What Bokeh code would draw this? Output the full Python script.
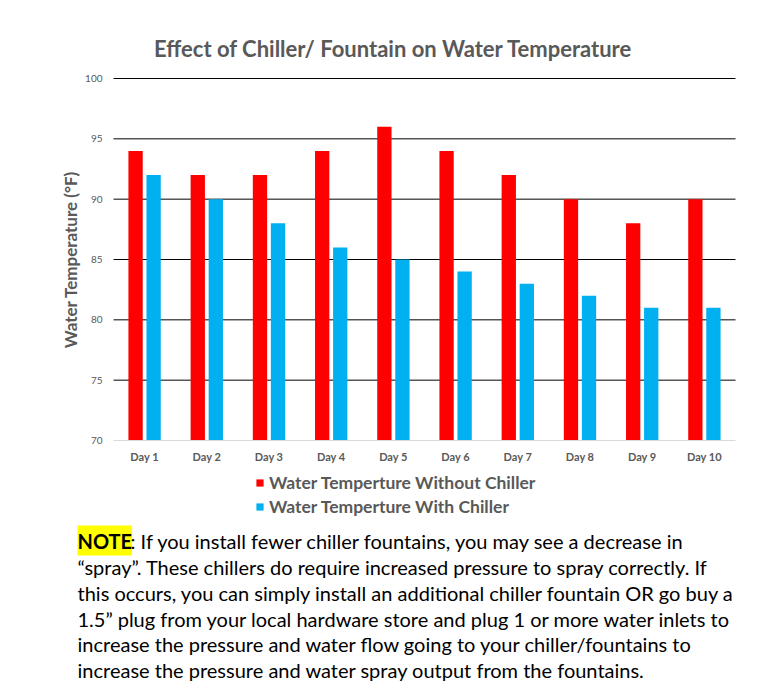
import math
from bokeh.plotting import figure
from bokeh.models import (Range1d, FixedTicker, Legend, LegendItem, Label, ColumnDataSource)
from bokeh.transform import dodge
from bokeh.embed import file_html
from bokeh.resources import INLINE

days = ["Day 1", "Day 2", "Day 3", "Day 4", "Day 5", "Day 6", "Day 7", "Day 8", "Day 9", "Day 10"]
without_chiller = [94, 92, 92, 94, 96, 94, 92, 90, 88, 90]
with_chiller = [92, 90, 88, 86, 85, 84, 83, 82, 81, 81]
y_ticks = [70, 75, 80, 85, 90, 95, 100]
series_names = ["Water Temperture Without Chiller", "Water Temperture With Chiller"]
title_text = "Effect of Chiller/ Fountain on Water Temperature"
y_label = "Water Temperature (°F)"
note_head = "NOTE"
note_lines = [
    ": If you install fewer chiller fountains, you may see a decrease in",
    "\u201cspray\u201d. These chillers do require increased pressure to spray correctly. If",
    "this occurs, you can simply install an additional chiller fountain OR go buy a",
    "1.5\u201d plug from your local hardware store and plug 1 or more water inlets to",
    "increase the pressure and water flow going to your chiller/fountains to",
    "increase the pressure and water spray output from the fountains.",
]

FONT = "Lato"
GRAY = "#595959"
W, H = 784, 700
# plot-area placement in canvas pixels (layout only)
PL, PR, PT, PB = 113, 735, 78, 440
n = len(days)
ymin, ymax = y_ticks[0], y_ticks[-1]
xpx = (PR - PL) / n
ypx = (PB - PT) / (ymax - ymin)

xpos = [i + 0.5 for i in range(n)]
src = ColumnDataSource(dict(x=xpos, wo=without_chiller, wi=with_chiller))
grid_src = ColumnDataSource(dict(y=y_ticks[1:], x0=[0] * (len(y_ticks) - 1),
                                 x1=[n] * (len(y_ticks) - 1)))

p = figure(width=W, height=H,
           x_range=Range1d(-PL / xpx, (W - PL) / xpx),
           y_range=Range1d(ymin - (H - PB) / ypx, ymax + PT / ypx),
           output_backend="svg", toolbar_location=None,
           min_border=0, min_border_left=0, min_border_right=0,
           min_border_top=0, min_border_bottom=0)
p.outline_line_color = None
p.background_fill_color = "white"
p.border_fill_color = "white"
p.xgrid.visible = False
p.ygrid.visible = False

# horizontal gridlines over the plot area only
p.segment(x0="x0", x1="x1", y0="y", y1="y", source=grid_src, line_color="black", line_width=1)

r1 = p.vbar(x=dodge("x", -0.145), top="wo", bottom=ymin, width=0.23,
            source=src, color="#ff0000", line_color=None)
r2 = p.vbar(x=dodge("x", 0.145), top="wi", bottom=ymin, width=0.23,
            source=src, color="#00b0f0", line_color=None)

# y axis at the left edge of the plot area
p.yaxis.fixed_location = 0
p.yaxis.bounds = (ymin, ymax)
p.yaxis.ticker = FixedTicker(ticks=y_ticks)
p.yaxis.axis_line_color = None
p.yaxis.major_tick_line_color = None
p.yaxis.major_tick_out = 0
p.yaxis.major_tick_in = 0
p.yaxis.minor_tick_line_color = None
p.yaxis.major_label_standoff = 11
p.yaxis.major_label_text_font = FONT
p.yaxis.major_label_text_font_size = "10px"
p.yaxis.major_label_text_color = GRAY

# x axis on the 70 line
p.xaxis.fixed_location = ymin
p.xaxis.bounds = (0, n)
p.xaxis.ticker = FixedTicker(ticks=xpos)
p.xaxis.major_label_overrides = {x: d for x, d in zip(xpos, days)}
p.xaxis.axis_line_color = "#d9d9d9"
p.xaxis.major_tick_line_color = None
p.xaxis.major_tick_out = 0
p.xaxis.major_tick_in = 0
p.xaxis.minor_tick_line_color = None
p.xaxis.major_label_standoff = 9
p.xaxis.major_label_text_font = FONT
p.xaxis.major_label_text_font_size = "11px"
p.xaxis.major_label_text_font_style = "bold"
p.xaxis.major_label_text_color = GRAY

def sy(cy):
    return H - cy

# title
p.add_layout(Label(x=393, y=sy(48), x_units="screen", y_units="screen", text=title_text,
                   text_font=FONT, text_font_style="bold", text_font_size="22px",
                   text_color=GRAY, text_align="center", text_baseline="middle"))
# y axis title
p.add_layout(Label(x=70, y=sy((PT + PB) / 2), x_units="screen", y_units="screen", text=y_label,
                   angle=math.pi / 2, text_font=FONT, text_font_style="bold",
                   text_font_size="17px", text_color=GRAY, text_align="center",
                   text_baseline="middle"))

# legend
leg_h = 43
legend = Legend(items=[LegendItem(label=series_names[0], renderers=[r1]),
                       LegendItem(label=series_names[1], renderers=[r2])],
                location=(255, H - 474 - leg_h), orientation="vertical",
                glyph_width=9, glyph_height=9, label_height=20, spacing=3,
                padding=0, margin=0, label_standoff=5,
                label_text_font=FONT, label_text_font_style="bold",
                label_text_font_size="17.5px", label_text_color=GRAY,
                background_fill_alpha=0, border_line_color=None)
p.add_layout(legend, "center")

# note
note_size = "20px"
note_x = 77
line_y = [540, 566, 592, 618, 643, 669]
p.add_layout(Label(x=note_x, y=sy(line_y[0]), x_units="screen", y_units="screen",
                   text=note_head, text_font=FONT, text_font_style="bold",
                   text_font_size=note_size, text_color="black", text_align="left",
                   text_baseline="middle", background_fill_color="#ffff00",
                   padding=(0, 3)))
p.add_layout(Label(x=note_x + 53, y=sy(line_y[0]), x_units="screen", y_units="screen",
                   text=note_lines[0], text_font=FONT, text_font_size=note_size,
                   text_color="black", text_align="left", text_baseline="middle"))
for t, cy in zip(note_lines[1:], line_y[1:]):
    p.add_layout(Label(x=note_x, y=sy(cy), x_units="screen", y_units="screen",
                       text=t, text_font=FONT, text_font_size=note_size,
                       text_color="black", text_align="left", text_baseline="middle"))

open("out.html", "w").write(file_html(p, INLINE))
